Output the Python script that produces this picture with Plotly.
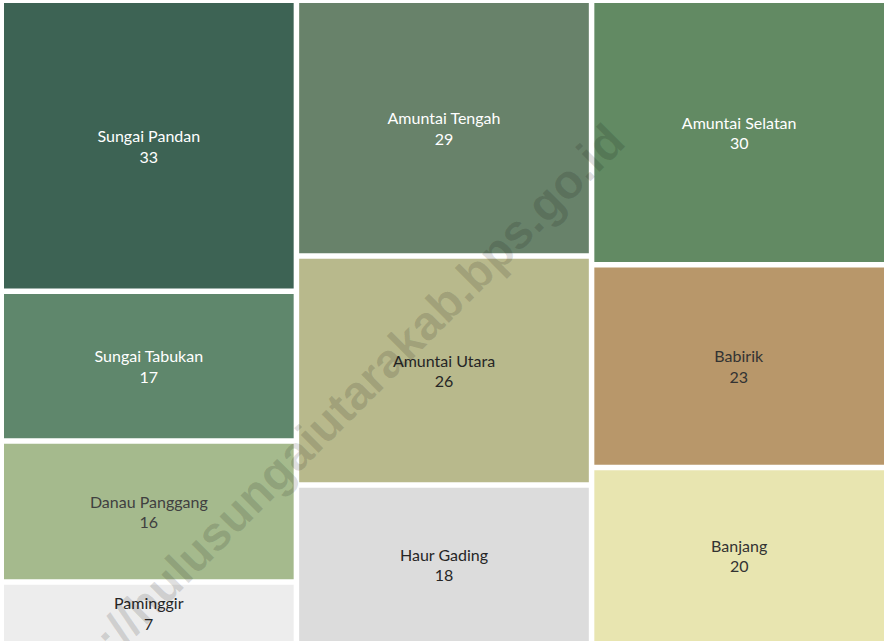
import plotly.graph_objects as go

# ---- data ----
kelompok = ["Kolom 1", "Kolom 2", "Kolom 3"]
kecamatan = ["Sungai Pandan", "Sungai Tabukan", "Danau Panggang", "Paminggir",
             "Amuntai Tengah", "Amuntai Utara", "Haur Gading",
             "Amuntai Selatan", "Babirik", "Banjang"]
nilai = [33, 17, 16, 7, 29, 26, 18, 30, 23, 20]
kolom = ["Kolom 1"] * 4 + ["Kolom 2"] * 3 + ["Kolom 3"] * 3
warna = ["#3D6354", "#5F876C", "#A5BA8D", "#EDEDED",
         "#68826A", "#B8B98C", "#DCDCDC",
         "#628A63", "#B8976A", "#E8E5B0"]
warna_teks = ["#FFFFFF", "#FFFFFF", "#404040", "#262626",
              "#FFFFFF", "#262626", "#262626",
              "#FFFFFF", "#333333", "#333333"]
watermark = "https://hulusungaiutarakab.bps.go.id"

# ---- build hierarchy ----
ids = kelompok + kecamatan
labels = [""] * len(kelompok) + kecamatan
parents = [""] * len(kelompok) + kolom
values = [0] * len(kelompok) + nilai
colors = ["#FFFFFF"] * len(kelompok) + warna
text_colors = ["#FFFFFF"] * len(kelompok) + warna_teks
templates = [""] * len(kelompok) + ["%{label}<br>%{value}"] * len(kecamatan)

W, H = 884, 641

fig = go.Figure(go.Treemap(
    ids=ids,
    labels=labels,
    parents=parents,
    values=values,
    branchvalues="remainder",
    sort=False,
    tiling=dict(packing="slice-dice", pad=5.5),
    marker=dict(colors=colors, line=dict(width=0),
                pad=dict(t=0, l=0, r=0, b=0)),
    root=dict(color="#FFFFFF"),
    pathbar=dict(visible=False),
    texttemplate=templates,
    textposition="middle center",
    textfont=dict(family="Lato", size=16, color=text_colors),
    hoverinfo="label+value",
    domain=dict(x=[4 / W, 1], y=[0, 1 - 3 / H]),
))

fig.add_annotation(
    text=watermark,
    xref="paper", yref="paper",
    x=318 / W, y=1 - 431 / H,
    xanchor="center", yanchor="middle",
    textangle=-45,
    showarrow=False,
    font=dict(family="Liberation Sans", size=48, color="rgba(0,0,0,0.13)",
              weight="bold"),
)

fig.update_layout(
    width=W, height=H,
    margin=dict(l=0, r=0, t=0, b=0),
    paper_bgcolor="#FFFFFF",
    showlegend=False,
)

fig.write_html(
    "out.html",
    config={"displayModeBar": False},
    post_script="document.body.style.margin='0';document.body.style.overflow='hidden';",
)
